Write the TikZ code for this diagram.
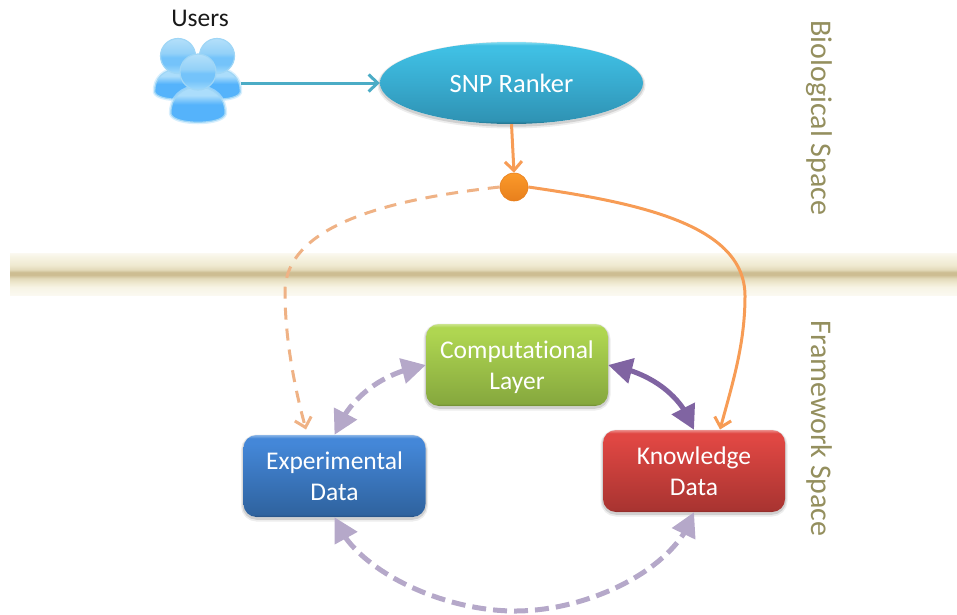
\documentclass[tikz,border=0pt]{standalone}
\usepackage{fontspec}
\setmainfont{Carlito}[Ligatures=NoCommon]
\usetikzlibrary{arrows.meta,bending,shapes.geometric}
\definecolor{cream0}{HTML}{F7F4E5}
\definecolor{creamM}{HTML}{EFE9D0}
\definecolor{cream1}{HTML}{E3DABA}
\definecolor{cream2}{HTML}{CDBD92}
\definecolor{creamE}{HTML}{FBF9F1}
\definecolor{gT}{HTML}{AFD651}\definecolor{gB}{HTML}{86A83E}\definecolor{gH}{HTML}{CBE48D}\definecolor{gD}{HTML}{6B8632}
\definecolor{rT}{HTML}{E04743}\definecolor{rB}{HTML}{A93431}\definecolor{rH}{HTML}{EC8C89}\definecolor{rD}{HTML}{872A27}
\definecolor{bT}{HTML}{4487D8}\definecolor{bB}{HTML}{2F639F}\definecolor{bH}{HTML}{8AB5E7}\definecolor{bD}{HTML}{264F7F}
\definecolor{tT}{HTML}{3FBFE3}\definecolor{tM}{HTML}{38ABCF}\definecolor{tB}{HTML}{2F93B4}\definecolor{tH}{HTML}{86DDF2}\definecolor{tD}{HTML}{236F88}
\definecolor{orangeL}{HTML}{F79C55}
\definecolor{orangeD}{HTML}{EFB285}
\definecolor{dotT}{HTML}{FB9A2A}
\definecolor{dotB}{HTML}{E87F1C}
\definecolor{purpleS}{HTML}{8064A2}
\definecolor{purpleL}{HTML}{B5A8C9}
\definecolor{tealL}{HTML}{4BACC6}
\definecolor{spacetxt}{HTML}{948F5E}
\definecolor{headT}{HTML}{B4E0FA}
\definecolor{headM}{HTML}{93D1F8}
\definecolor{headB}{HTML}{74C3FA}
\definecolor{headL}{HTML}{A2DAFB}
\definecolor{bodyT}{HTML}{ABDDFB}
\definecolor{bodyB}{HTML}{55B3FB}
\definecolor{personE}{HTML}{9FD6F6}
\definecolor{personD}{HTML}{3F9FE6}
\definecolor{glow}{HTML}{BFE5FC}
\pgfdeclareverticalshading{barshade}{100bp}{color(0bp)=(white); color(25bp)=(white); color(26bp)=(creamE); color(35bp)=(cream0); color(40bp)=(creamM); color(45bp)=(cream1); color(49bp)=(cream2); color(52bp)=(cream2); color(55bp)=(cream1); color(60bp)=(creamM); color(70bp)=(cream0); color(74bp)=(creamE); color(75bp)=(white); color(100bp)=(white)}
\pgfdeclareverticalshading{greenshade}{100bp}{color(0bp)=(gB); color(25bp)=(gD); color(26.5bp)=(gB); color(70bp)=(gT); color(73bp)=(gT); color(75bp)=(gH); color(100bp)=(gH)}
\pgfdeclareverticalshading{redshade}{100bp}{color(0bp)=(rB); color(25bp)=(rD); color(26.5bp)=(rB); color(70bp)=(rT); color(73bp)=(rT); color(75bp)=(rH); color(100bp)=(rH)}
\pgfdeclareverticalshading{blueshade}{100bp}{color(0bp)=(bB); color(25bp)=(bD); color(26.5bp)=(bB); color(70bp)=(bT); color(73bp)=(bT); color(75bp)=(bH); color(100bp)=(bH)}
\pgfdeclareverticalshading{tealshade}{100bp}{color(0bp)=(tB); color(25bp)=(tD); color(27bp)=(tB); color(50bp)=(tM); color(70bp)=(tT); color(73bp)=(tT); color(75bp)=(tH); color(100bp)=(tH)}
\pgfdeclareverticalshading{headshade}{100bp}{color(0bp)=(headL); color(25bp)=(headL); color(38bp)=(headB); color(48bp)=(headB); color(54bp)=(headM); color(75bp)=(headT); color(100bp)=(headT)}
\pgfdeclareverticalshading{bodyshade}{100bp}{color(0bp)=(bodyB); color(25bp)=(personD); color(28bp)=(bodyB); color(52bp)=(bodyB); color(64bp)=(bodyT); color(75bp)=(bodyT); color(100bp)=(bodyT)}
\tikzset{
  softshadow/.style={preaction={draw=black,draw opacity=.07,line width=5pt,transform canvas={yshift=-2pt}},
                     preaction={draw=black,draw opacity=.12,line width=2.5pt,transform canvas={yshift=-1.5pt}}},
  glossbox/.style={rounded corners=13pt,minimum width=182pt,minimum height=82pt,inner sep=0pt,align=center,
     text=white,font=\fontsize{25.5}{31}\selectfont,softshadow},
  solidpurple/.style={purpleS,line width=5pt,{Triangle[length=24pt,width=25pt,flex]}-{Triangle[length=24pt,width=25pt,flex]}},
  dashpurple/.style={purpleL,line width=5pt,dash pattern=on 14pt off 7pt,{Triangle[length=24pt,width=25pt,flex]}-{Triangle[length=24pt,width=25pt,flex]}},
  openarrow/.style={line width=3pt,-{Straight Barb[length=9pt,width=17pt,flex]}},
  headfill/.style={shading=headshade,draw=personE,line width=1.2pt},
  bodyfill/.style={shading=bodyshade,draw=personE,line width=1.2pt,preaction={draw=glow,draw opacity=.6,line width=4pt}},
  spacelabel/.style={text=spacetxt,rotate=-90,font=\fontsize{30}{34}\selectfont,inner sep=0pt},
}
\newcommand{\persona}[4]{% head centre x, head centre y, body scale, head radius
  \begin{scope}[shift={(#1,#2)}]
    \begin{scope}[scale=#3]
    \path[bodyfill] (-27,42) .. controls (-28,26) and (-16,15) .. (0,15) .. controls (16,15) and (28,26) .. (27,42) .. controls (24,53) and (-24,53) .. (-27,42) -- cycle;
    \end{scope}
    \path[headfill] (0,0) circle (#4);
  \end{scope}}
\begin{document}
\begin{tikzpicture}[x=1pt,y=-1pt]
\useasboundingbox (0,0) rectangle (957,614);
% band
\shade[shading=barshade] (10,252) rectangle (957,296);
% users
\persona{178}{56}{.86}{17.5}
\persona{217}{56}{.86}{17.5}
\persona{198}{72}{1}{18}
\node[inner sep=0pt,minimum width=86pt,minimum height=90pt] (users) at (198,83) {};
\node[font=\fontsize{25.5}{28}\selectfont,text=black!90,inner sep=0pt] (userslabel) at (200,18) {Users};
% ellipse
\node[ellipse,minimum width=263pt,minimum height=82pt,inner sep=0pt,shading=tealshade,text=white,font=\fontsize{26.5}{30}\selectfont,softshadow] (ranker) at (511.5,83) {SNP Ranker};
% dot
\node[circle,minimum size=28pt,inner sep=0pt,draw=dotB,line width=.6pt,top color=dotT,bottom color=dotB] (dot) at (514,187) {};
% boxes
\node[glossbox,shading=greenshade,text depth=0pt] (comp) at (517,365) {Computational\\Layer};
\node[glossbox,shading=blueshade] (expd) at (334.5,476) {Experimental\\Data};
\node[glossbox,shading=redshade] (know) at (694,471) {Knowledge\\Data};
% labels
\node[spacelabel] (bio) at (819,118) {Biological Space};
\node[spacelabel] (frame) at (819,428.5) {Framework Space};
% connectors
\draw[tealL,openarrow] (users.east) -- (ranker.west);
\draw[orangeL,openarrow] (ranker.south) -- (dot.north);
\coordinate (kt) at (720,429.5);
\coordinate (et) at (306,429.5);
\draw[orangeL,openarrow] (dot.east) .. controls (640,203) and (745,225) .. (745,296) .. controls (745,345) and (732,385) .. (kt);
\draw[orangeD,line width=3pt,dash pattern=on 12pt off 9pt,-{Straight Barb[length=9pt,width=17pt,flex]}] (dot.west) .. controls (400,198) and (285,222) .. (285,292) .. controls (285,340) and (295,390) .. (et);
\draw[solidpurple] (comp.east) .. controls (650,372) and (682,395) .. (know.north);
\draw[dashpurple] (comp.west) .. controls (385,372) and (350,395) .. (expd.north);
\draw[dashpurple] (expd.south) .. controls (352,568) and (440,611) .. (515,611) .. controls (590,611) and (677,568) .. (know.south);
\end{tikzpicture}
\end{document}
